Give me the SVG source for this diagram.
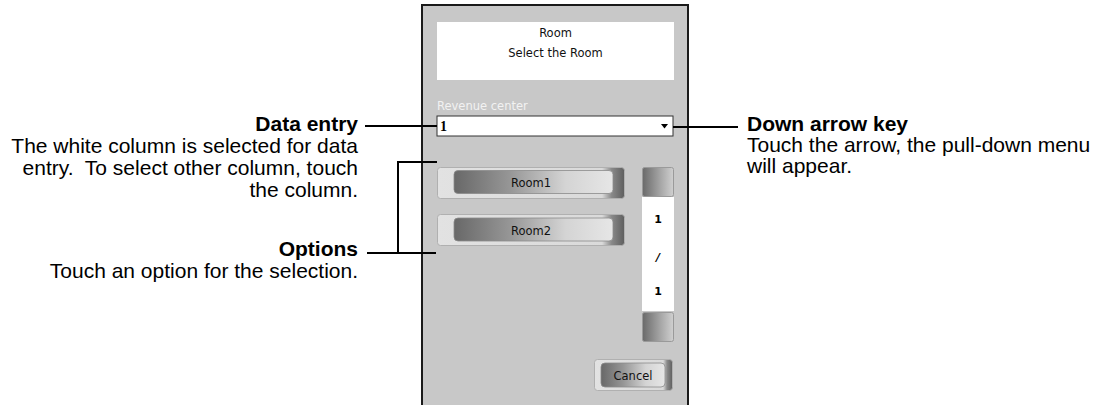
<svg xmlns="http://www.w3.org/2000/svg" width="1114" height="405" viewBox="0 0 1114 405">
  <defs>
    <linearGradient id="pill" x1="0" y1="0" x2="1" y2="0">
      <stop offset="0" stop-color="#686868"/>
      <stop offset="0.35" stop-color="#969696"/>
      <stop offset="0.7" stop-color="#d4d4d4"/>
      <stop offset="1" stop-color="#e6e6e6"/>
    </linearGradient>
    <linearGradient id="outer" x1="0" y1="0" x2="1" y2="0">
      <stop offset="0" stop-color="#e2e2e2"/>
      <stop offset="0.88" stop-color="#dadada"/>
      <stop offset="0.93" stop-color="#8a8a8a"/>
      <stop offset="1" stop-color="#5e5e5e"/>
    </linearGradient>
    <linearGradient id="sq" x1="0" y1="0" x2="1" y2="0">
      <stop offset="0" stop-color="#6a6a6a"/>
      <stop offset="0.6" stop-color="#a8a8a8"/>
      <stop offset="1" stop-color="#d0d0d0"/>
    </linearGradient>
  </defs>
  <style>
    .lbl { font-family: "Liberation Sans", Arial, sans-serif; font-size: 21px; fill: #000; }
    .b { font-weight: bold; }
    .ui { font-family: "DejaVu Sans", Tahoma, sans-serif; font-size: 11.5px; fill: #111; }
    .num { font-family: "DejaVu Sans", Tahoma, sans-serif; font-size: 11px; font-weight: bold; fill: #000; }
    .conn { stroke: #000; stroke-width: 2; fill: none; }
    .btnOuter { fill: url(#outer); stroke: #b0b0b0; stroke-width: 1; }
    .btnPill { fill: url(#pill); stroke: #8a8a8a; stroke-width: 0.8; }
    .sqBtn { fill: url(#sq); stroke: #9a9a9a; stroke-width: 1; }
  </style>

  <!-- Device panel -->
  <g id="panel">
    <rect x="422" y="5" width="266" height="402" fill="#c8c8c8" stroke="#1a1a1a" stroke-width="2"/>
  </g>

  <g id="title-box">
    <rect x="437" y="22" width="237" height="58" fill="#ffffff"/>
    <text class="ui" x="555.5" y="37" text-anchor="middle">Room</text>
    <text class="ui" x="555.5" y="57" text-anchor="middle">Select the Room</text>
  </g>

  <g id="revenue-center">
    <text class="ui" x="437" y="110" style="fill:#f2f2f2">Revenue center</text>
    <rect x="437" y="116" width="236" height="20" fill="#ffffff" stroke="#333" stroke-width="1"/>
    <text x="440" y="131" font-family="Liberation Serif, serif" font-weight="bold" font-size="14" fill="#000">1</text>
    <polygon points="661,124 668,124 664.5,128.5" fill="#000"/>
  </g>

  <g id="room1">
    <rect class="btnOuter" x="437.5" y="167.5" width="187" height="31" rx="3"/>
    <rect class="btnPill" x="454" y="170.5" width="159" height="23" rx="4"/>
    <text class="ui" x="531" y="187" text-anchor="middle" font-size="12">Room1</text>
  </g>

  <g id="room2">
    <rect class="btnOuter" x="437.5" y="214.5" width="187" height="31" rx="3"/>
    <rect class="btnPill" x="454" y="218" width="159" height="23" rx="4"/>
    <text class="ui" x="531" y="235" text-anchor="middle" font-size="12">Room2</text>
  </g>

  <g id="scroll">
    <rect class="sqBtn" x="642.5" y="167.5" width="31" height="29" rx="2"/>
    <rect x="642" y="197" width="32" height="114" fill="#ffffff"/>
    <text class="num" x="658" y="223" text-anchor="middle">1</text>
    <text class="num" x="658" y="261" text-anchor="middle" font-style="italic">/</text>
    <text class="num" x="658" y="295" text-anchor="middle">1</text>
    <rect class="sqBtn" x="642.5" y="312.5" width="31" height="29" rx="2"/>
  </g>

  <g id="cancel">
    <rect class="btnOuter" x="594.5" y="359.5" width="78" height="31" rx="3"/>
    <rect class="btnPill" x="601" y="363" width="64" height="24" rx="4"/>
    <text class="ui" x="633" y="380" text-anchor="middle" font-size="12">Cancel</text>
  </g>

  <!-- Callout labels -->
  <g id="label-data-entry">
    <text class="lbl b" x="358" y="131" text-anchor="end">Data entry</text>
    <text class="lbl" x="358" y="153" text-anchor="end">The white column is selected for data</text>
    <text class="lbl" x="358" y="175" text-anchor="end">entry.&#160; To select other column, touch</text>
    <text class="lbl" x="358" y="197" text-anchor="end">the column.</text>
  </g>

  <g id="label-options">
    <text class="lbl b" x="358" y="256" text-anchor="end">Options</text>
    <text class="lbl" x="358" y="278" text-anchor="end">Touch an option for the selection.</text>
  </g>

  <g id="label-down-arrow">
    <text class="lbl b" x="747" y="131">Down arrow key</text>
    <text class="lbl" x="747" y="152">Touch the arrow, the pull-down menu</text>
    <text class="lbl" x="747" y="173">will appear.</text>
  </g>

  <!-- Connectors -->
  <g id="connectors">
    <line class="conn" x1="365" y1="126" x2="437" y2="126"/>
    <line class="conn" x1="673" y1="127" x2="738" y2="127"/>
    <polyline class="conn" points="437,162 398,162 398,253"/>
    <line class="conn" x1="367" y1="253" x2="436" y2="253"/>
  </g>
</svg>
